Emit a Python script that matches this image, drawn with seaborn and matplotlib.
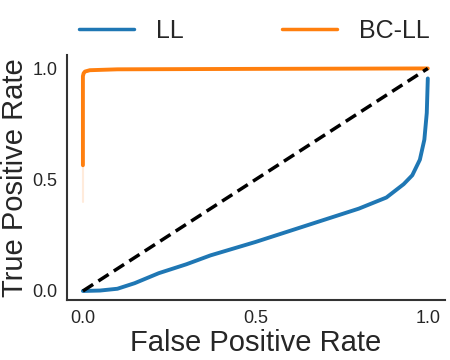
import pandas as pd
import seaborn as sns
import matplotlib.pyplot as plt

# ROC curves
ll_fpr = [0.0, 0.05, 0.1, 0.15, 0.22, 0.3, 0.37, 0.5, 0.6, 0.72, 0.8, 0.88,
          0.93, 0.955, 0.977, 0.99, 0.997, 1.0]
ll_tpr = [0.0, 0.002, 0.01, 0.035, 0.08, 0.12, 0.16, 0.22, 0.27, 0.33, 0.37, 0.42,
          0.48, 0.52, 0.59, 0.68, 0.8, 0.955]

bc_fpr = [0.0, 0.0, 0.002, 0.006, 0.02, 0.1, 0.5, 1.0]
bc_tpr = [0.565, 0.965, 0.978, 0.986, 0.992, 0.996, 0.998, 1.0]

# faint band under the start of BC-LL
bc_band_fpr = [0.0, 0.0]
bc_band_tpr = [0.40, 0.57]

chance = [0.0, 1.0]
ticks = [0.0, 0.5, 1.0]
tick_labels = ["0.0", "0.5", "1.0"]

df = pd.concat([
    pd.DataFrame({"fpr": ll_fpr, "tpr": ll_tpr, "model": "LL"}),
    pd.DataFrame({"fpr": bc_fpr, "tpr": bc_tpr, "model": "BC-LL"}),
], ignore_index=True)

sns.set_style("white")
plt.rcParams["font.family"] = ["Liberation Sans", "DejaVu Sans"]

fig = plt.figure(figsize=(4.5, 3.6), dpi=100)
ax = fig.add_axes([0.149, 0.167, 0.84, 0.68])

ax.plot(bc_band_fpr, bc_band_tpr, color="#ff7f0e", alpha=0.15, lw=1.5)
sns.lineplot(data=df, x="fpr", y="tpr", hue="model", palette=["#1f77b4", "#ff7f0e"],
             estimator=None, sort=False, lw=2.8, ax=ax)
ax.plot(chance, chance, color="black", lw=2.5, linestyle=(0, (3.5, 1.8)))

ax.set_xlim(-0.046, 1.05)
ax.set_ylim(-0.04, 1.06)
ax.set_xticks(ticks)
ax.set_xticklabels(tick_labels, fontsize=13, color="#262626")
ax.set_yticks(ticks)
ax.set_yticklabels(tick_labels, fontsize=13, color="#262626")
ax.set_xlabel("False Positive Rate", fontsize=21, labelpad=2)
ax.set_ylabel("True Positive Rate", fontsize=21, labelpad=2)
sns.despine(ax=ax)
for s in ["left", "bottom"]:
    ax.spines[s].set_color("#333333")
    ax.spines[s].set_linewidth(1.5)

handles, labels = ax.get_legend_handles_labels()
ax.get_legend().remove()
leg = fig.legend(handles, labels, loc="upper center", bbox_to_anchor=(0.565, 1.01),
                 ncol=2, frameon=False, fontsize=18, handlelength=2.2,
                 handletextpad=0.9, columnspacing=3.9)
for h in leg.get_lines():
    h.set_linewidth(2.5)

plt.savefig("out.png", dpi=100)
